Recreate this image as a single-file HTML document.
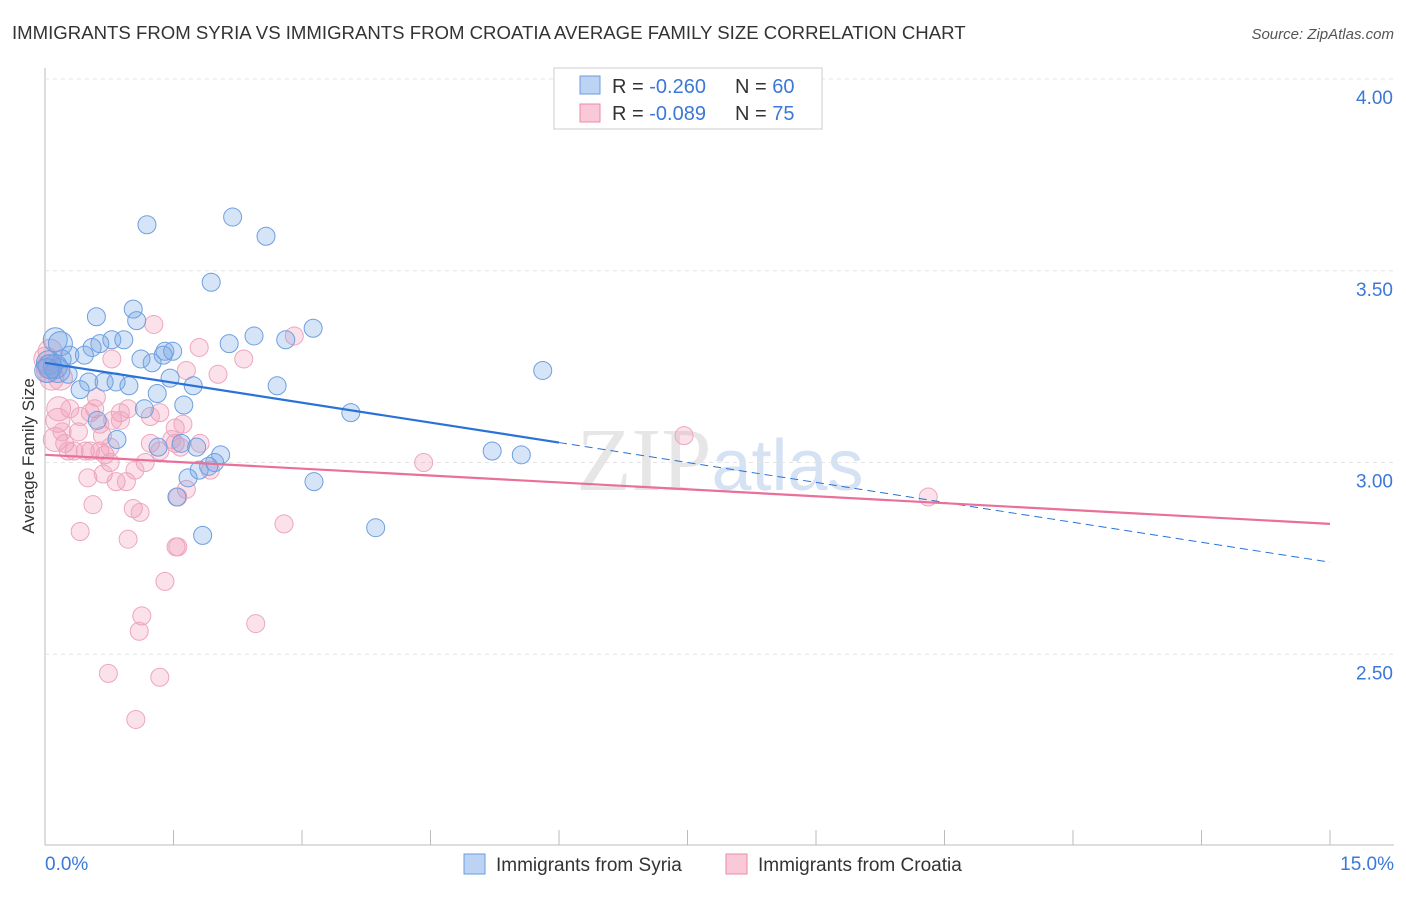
<!DOCTYPE html>
<html><head><meta charset="utf-8"><style>
body{margin:0;background:#fff;font-family:"Liberation Sans",sans-serif}
</style></head><body>
<svg id="c" width="1406" height="892" xmlns="http://www.w3.org/2000/svg" font-family="Liberation Sans, sans-serif">
<text x="12" y="39" font-size="18.6" fill="#333">IMMIGRANTS FROM SYRIA VS IMMIGRANTS FROM CROATIA AVERAGE FAMILY SIZE CORRELATION CHART</text>
<text x="1394" y="39" font-size="15" fill="#555" font-style="italic" text-anchor="end">Source: ZipAtlas.com</text>
<text x="34" y="456" font-size="17" fill="#333" text-anchor="middle" transform="rotate(-90 34 456)">Average Family Size</text>
<text x="720" y="490" font-size="90" fill="#e6e6e6" text-anchor="middle" font-family="Liberation Serif, serif">ZIP<tspan fill="#d5e2f3" font-family="Liberation Sans, sans-serif" font-size="72">atlas</tspan></text>
<g id="grid"></g><g id="pts"></g><g id="lines"></g>
<g>
<rect x="554" y="68" width="268" height="61" fill="#fff" stroke="#ccc"/>
<rect x="580" y="76" width="20" height="18" fill="#bcd3f3" stroke="#6b9bdc"/>
<rect x="580" y="104" width="20" height="18" fill="#f9c9d7" stroke="#e98aa8"/>
<text x="612" y="93" font-size="20" fill="#333">R = <tspan fill="#3b78d8">-0.260</tspan></text>
<text x="735" y="93" font-size="20" fill="#333">N = <tspan fill="#3b78d8">60</tspan></text>
<text x="612" y="120" font-size="20" fill="#333">R = <tspan fill="#3b78d8">-0.089</tspan></text>
<text x="735" y="120" font-size="20" fill="#333">N =  <tspan fill="#3b78d8">75</tspan></text>
</g>
<g>
<rect x="464" y="854" width="21" height="20" fill="#bcd3f3" stroke="#6b9bdc"/>
<text x="496" y="871" font-size="19" fill="#333">Immigrants from Syria</text>
<rect x="726" y="854" width="21" height="20" fill="#f9c9d7" stroke="#e98aa8"/>
<text x="758" y="871" font-size="19" fill="#333">Immigrants from Croatia</text>
</g>
</svg>
<script>
const yTicks=[4.0,3.5,3.0,2.5];
const yTickLabels=["4.00","3.50","3.00","2.50"];
const xTickLabels=["0.0%","15.0%"];
const syriaX=[1.19,2.19,2.58,1.94,0.60,1.03,1.07,0.12,0.78,0.92,0.64,0.55,1.40,1.49,1.12,1.25,1.38,2.15,2.44,2.81,3.13,0.29,0.20,0.04,0.15,0.27,0.51,0.69,0.83,0.98,0.41,1.31,1.46,1.73,2.71,5.81,1.16,1.62,3.57,0.61,0.84,1.59,1.32,1.77,2.05,1.98,1.91,1.80,1.67,5.22,5.56,3.14,1.54,1.84,3.86,0.12,0.06,0.02,0.18,0.46];
const syriaY=[3.62,3.64,3.59,3.47,3.38,3.40,3.37,3.32,3.32,3.32,3.31,3.30,3.29,3.29,3.27,3.26,3.28,3.31,3.33,3.32,3.35,3.28,3.27,3.26,3.24,3.23,3.21,3.21,3.21,3.20,3.19,3.18,3.22,3.20,3.20,3.24,3.14,3.15,3.13,3.11,3.06,3.05,3.04,3.04,3.02,3.00,2.99,2.98,2.96,3.03,3.02,2.95,2.91,2.81,2.83,3.25,3.25,3.24,3.31,3.28];
const croatiaX=[1.27,2.91,1.80,2.32,0.78,1.65,2.02,0.06,0.04,0.08,0.16,0.29,0.58,0.97,0.53,0.88,0.60,1.34,0.15,0.39,0.64,0.79,1.52,1.61,0.12,0.23,0.67,1.23,1.52,1.81,0.34,0.27,0.53,0.70,1.34,1.58,0.76,1.17,1.93,0.50,0.68,0.83,0.95,1.65,1.55,0.56,1.03,1.11,2.79,0.41,0.97,1.53,4.42,7.46,10.31,1.40,1.13,2.46,1.10,0.74,1.34,1.06,0.01,0.04,0.18,0.47,0.64,0.88,1.23,1.48,0.41,0.20,0.76,1.05,1.55];
const croatiaY=[3.36,3.33,3.30,3.27,3.27,3.24,3.23,3.29,3.24,3.22,3.14,3.14,3.14,3.14,3.13,3.13,3.17,3.13,3.11,3.08,3.10,3.11,3.09,3.10,3.06,3.05,3.07,3.05,3.05,3.05,3.03,3.03,3.03,3.02,3.03,3.04,3.00,3.00,2.98,2.96,2.97,2.95,2.95,2.93,2.91,2.89,2.88,2.87,2.84,2.82,2.80,2.78,3.00,3.07,2.91,2.69,2.60,2.58,2.56,2.45,2.44,2.33,3.27,3.25,3.22,3.03,3.03,3.11,3.12,3.06,3.12,3.08,3.04,2.98,2.78];
const syriaTrend=[3.26,2.74];
const croatiaTrend=[3.02,2.84];
const X0=45,X1=1330,Y4=79,PPU=383.5;
const sx=v=>X0+(X1-X0)*v/15;
const sy=v=>Y4+(4-v)*PPU;
const NS="http://www.w3.org/2000/svg";
function mk(t,a,p){const e=document.createElementNS(NS,t);for(const k in a)e.setAttribute(k,a[k]);p.appendChild(e);return e;}
const grid=document.getElementById('grid');
mk('line',{x1:X0,y1:68,x2:X0,y2:845,stroke:'#bbb'},grid);
mk('line',{x1:X0,y1:845,x2:1394,y2:845,stroke:'#bbb'},grid);
yTicks.forEach((v,i)=>{
 const l=mk('line',{x1:X0,y1:sy(v),x2:1394,y2:sy(v),stroke:'#e4e4e4','stroke-dasharray':'4 4'},grid);
 
 
 const t=mk('text',{x:1393,y:sy(v)+25,'font-size':19,fill:'#3b78d8','text-anchor':'end'},grid);
 t.textContent=yTickLabels[i];
 
 
});
for(let i=0;i<=10;i++){const x=sx(i*1.5);mk('line',{x1:x,y1:830,x2:x,y2:845,stroke:'#bbb'},grid);}
[[0,"start",45],[15,"end",1394]].forEach((d,i)=>{
 const t=mk('text',{x:d[2],y:870,'font-size':19,fill:'#3b78d8','text-anchor':d[1]},grid);
 t.textContent=xTickLabels[i];
 
 
});
const pts=document.getElementById('pts');
function dots(xs,ys,fill,stroke,name){
 xs.forEach((x,i)=>{
  const r=x<0.2?12:9;
  const c=mk('circle',{cx:sx(x),cy:sy(ys[i]),r:r,fill:fill,stroke:stroke,'stroke-width':1},pts);
  
  
 });
}
dots(croatiaX,croatiaY,'rgba(242,150,180,0.28)','#eea6bd','croatia-point');
dots(syriaX,syriaY,'rgba(120,165,230,0.3)','#6f9fe0','syria-point');
const lines=document.getElementById('lines');
const sm=syriaTrend[0]+(syriaTrend[1]-syriaTrend[0])*6/15;
let l=mk('line',{x1:sx(0),y1:sy(syriaTrend[0]),x2:sx(6),y2:sy(sm),stroke:'#2a72d8','stroke-width':2.2},lines);


l=mk('line',{x1:sx(6),y1:sy(sm),x2:sx(15),y2:sy(syriaTrend[1]),stroke:'#2a72d8','stroke-width':1,'stroke-dasharray':'8 5'},lines);


l=mk('line',{x1:sx(0),y1:sy(croatiaTrend[0]),x2:sx(15),y2:sy(croatiaTrend[1]),stroke:'#e8709a','stroke-width':2.2},lines);


</script>
</body></html>
